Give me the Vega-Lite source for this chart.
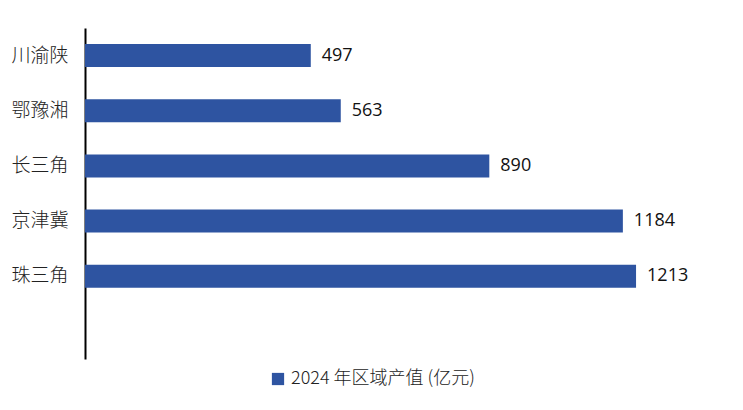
{
  "$schema": "https://vega.github.io/schema/vega-lite/v6.json",
  "autosize": "none",
  "width": 636,
  "height": 331,
  "padding": {"left": 85, "top": 28, "right": 22, "bottom": 51},
  "background": "white",
  "config": {"view": {"stroke": null}, "font": "Noto Sans CJK SC"},
  "data": {
    "values": [
      {"region": "川渝陕", "value": 497, "series": "2024 年区域产值 (亿元)"},
      {"region": "鄂豫湘", "value": 563, "series": "2024 年区域产值 (亿元)"},
      {"region": "长三角", "value": 890, "series": "2024 年区域产值 (亿元)"},
      {"region": "京津冀", "value": 1184, "series": "2024 年区域产值 (亿元)"},
      {"region": "珠三角", "value": 1213, "series": "2024 年区域产值 (亿元)"}
    ]
  },
  "encoding": {
    "y": {
      "field": "region",
      "type": "nominal",
      "scale": {"domain": ["川渝陕", "鄂豫湘", "长三角", "京津冀", "珠三角", " "], "paddingInner": 0.583, "paddingOuter": 0.2915},
      "axis": {"title": null, "ticks": false, "domain": true, "domainColor": "#000000", "domainWidth": 2, "labelFontSize": 19, "labelColor": "#222222", "labelPadding": 17, "labelFont": "Noto Sans CJK SC", "labelFontWeight": 300}
    },
    "x": {
      "field": "value",
      "type": "quantitative",
      "scale": {"domain": [0, 1400]},
      "axis": null
    }
  },
  "layer": [
    {
      "mark": {"type": "bar", "color": "#2E54A1"},
      "encoding": {
        "color": {
          "field": "series",
          "type": "nominal",
          "scale": {"range": ["#2E54A1"]},
          "legend": {"title": null, "orient": "none", "legendX": 184, "legendY": 342, "symbolType": "square", "symbolSize": 150, "labelFontSize": 18, "labelColor": "#222222", "labelFont": "Noto Sans CJK SC", "labelFontWeight": 300, "labelLimit": 0, "symbolStrokeWidth": 0, "labelOffset": 4}
        }
      }
    },
    {
      "mark": {"type": "text", "align": "left", "dx": 11, "fontSize": 18, "color": "#111111", "font": "Open Sans"},
      "encoding": {"text": {"field": "value", "type": "quantitative"}}
    }
  ]
}
